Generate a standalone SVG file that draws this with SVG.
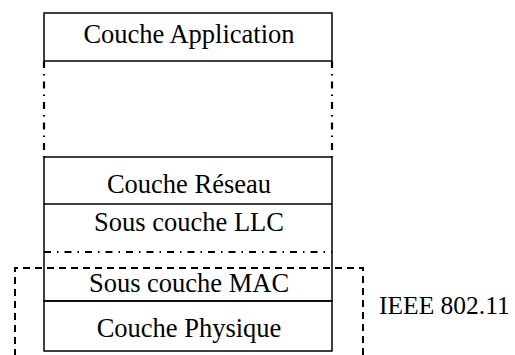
<svg xmlns="http://www.w3.org/2000/svg" width="515" height="355" viewBox="0 0 515 355">
<style>
.box{fill:none;stroke:#000;stroke-width:1.5}
.dd{fill:none;stroke:#000;stroke-width:2.2;stroke-dasharray:7 6 1.5 6}
.dh{fill:none;stroke:#000;stroke-width:2;stroke-dasharray:7 5}
.t{font-family:"Liberation Serif","Times New Roman",serif;font-size:26.5px;fill:#000;text-anchor:middle}
</style>
<rect width="515" height="355" fill="#fff"/>
<g id="app"><rect class="box" x="44" y="13" width="288" height="48"/><text class="t" x="189" y="43">Couche Application</text></g>
<g id="reseau"><rect class="box" x="44" y="157" width="288" height="47"/><text class="t" x="189" y="193">Couche Réseau</text></g>
<g id="llc"><path class="box" d="M44 204V268M332 204V268"/><text class="t" x="189" y="231">Sous couche LLC</text></g>
<g id="mac"><path class="box" d="M44 268V301H332V268"/><text class="t" x="189" y="292">Sous couche MAC</text></g>
<g id="phy"><rect class="box" x="44" y="301" width="288" height="50"/><text class="t" x="189" y="337">Couche Physique</text></g>
<g id="ieee"><path class="dh" d="M15 356V268H363V356"/><text class="t" x="379" y="314" style="text-anchor:start;font-size:25.5px">IEEE 802.11</text></g>
<g id="connectors">
<path class="dd" d="M44 61V157M332 61V157"/>
<path class="dd" d="M44 252H332"/>
</g>
</svg>
